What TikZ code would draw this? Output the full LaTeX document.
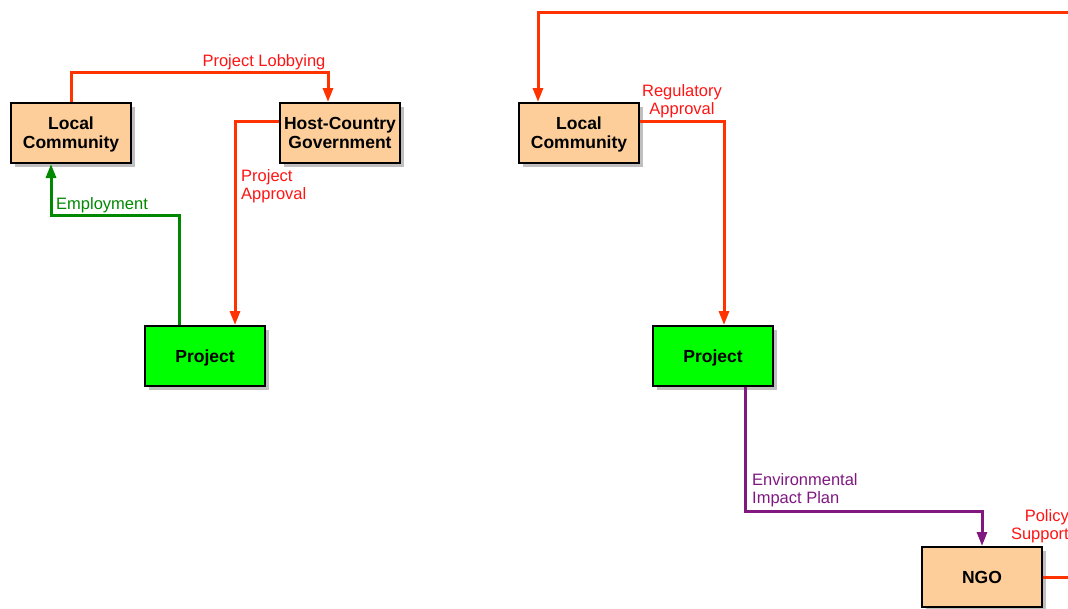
\documentclass[tikz,border=0pt]{standalone}
\usepackage{fontspec}
\setmainfont{Liberation Sans}
\usepackage{xcolor}
\usetikzlibrary{arrows.meta,positioning,shadows}
\definecolor{peach}{RGB}{253,206,153}
\definecolor{projgreen}{RGB}{0,255,0}
\definecolor{linkred}{RGB}{255,51,0}
\definecolor{textred}{RGB}{255,20,20}
\definecolor{linkgreen}{RGB}{0,136,0}
\definecolor{linkpurple}{RGB}{128,24,128}

\begin{document}
\begin{tikzpicture}[x=1pt,y=-1pt,
  actor/.style={draw,line width=2pt,fill=peach,minimum width=120pt,minimum height=60pt,
    inner sep=0pt,text depth=0pt,align=center,font=\bfseries\fontsize{17.5}{19}\selectfont,
    drop shadow={shadow xshift=3.5pt,shadow yshift=-3.5pt,opacity=.5}},
  proj/.style={actor,fill=projgreen},
  link/.style={line width=3pt,-{Triangle[length=14pt,width=10pt]}},
  lab/.style={inner sep=0pt,font=\fontsize{16.5}{18}\selectfont}]
\useasboundingbox (0,0) rectangle (1068,608);
% left side
\node[actor] (lc1) at (71,133) {Local\\Community};
\node[actor] (hcg) at (340,133) {Host-Country\\Government};
\node[proj] (p1) at (205,356) {Project};
\draw[link,linkred] (lc1.north) -- ++(0,-30) -| ([xshift=-12pt]hcg.north);
\node[lab,textred] (lobby) at (264,62) {Project Lobbying};
\draw[link,linkred] ([yshift=12pt]hcg.west) -| ([xshift=30pt]p1.north);
\node[lab,textred,anchor=west,align=left] (approve) at (241,186.5) {Project\\Approval};
\draw[link,linkgreen] ([xshift=-26pt]p1.north) -- ++(0,-110) -| ([xshift=-20pt]lc1.south);
\node[lab,linkgreen,anchor=west] (employ) at (56,205) {Employment};
% right side
\node[actor] (lc2) at (579,133) {Local\\Community};
\node[proj] (p2) at (713,356) {Project};
\node[actor] (ngo) at (982,577) {NGO};
\coordinate (topedge) at (1068,12);
\coordinate (rightedge) at (1068,577);
\draw[link,linkred] (topedge) -| ([xshift=-41pt]lc2.north);
\draw[link,linkred] ([yshift=12pt]lc2.east) -| ([xshift=11pt]p2.north);
\node[lab,textred,align=center] (regul) at (682,101) {Regulatory\\Approval};
\draw[link,linkpurple] ([xshift=32pt]p2.south) -- ++(0,124) -| (ngo.north);
\node[lab,linkpurple,anchor=west,align=left] (envplan) at (752,490) {Environmental\\Impact Plan};
\draw[line width=3pt,linkred] (ngo.east) -- (rightedge);
\node[lab,textred,anchor=east,align=right] (policy) at (1069,526) {Policy\\Support};
\end{tikzpicture}
\end{document}
